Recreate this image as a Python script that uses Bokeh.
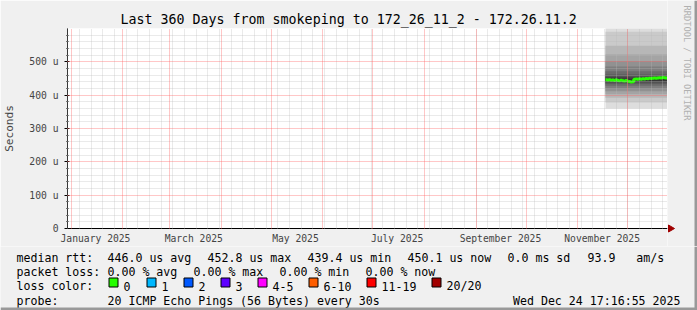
import math
import datetime as dt
import pandas as pd
from bokeh.plotting import figure
from bokeh.layouts import column, row
from bokeh.models import Range1d, FixedTicker, Grid, CustomJSTickFormatter
from bokeh.core.properties import value
from bokeh.embed import file_html
from bokeh.resources import INLINE

# ---------------- data ----------------
graph_start = dt.datetime(2024, 12, 29, 17, 16, 55)
graph_end = dt.datetime(2025, 12, 24, 17, 16, 55)

median_dates = list(pd.date_range("2025-11-17 12:00", "2025-12-24 12:00", freq="D"))
median_us = [446.5, 445.2, 446.0, 444.8, 445.6, 444.3, 445.9, 444.1, 443.5, 444.7,
             443.2, 442.8, 443.9, 442.1, 441.0, 439.4, 440.6, 447.8, 448.3, 447.5,
             448.9, 448.1, 449.0, 448.6, 449.7, 449.2, 450.4, 449.8, 450.9, 451.3,
             450.6, 451.8, 452.2, 451.5, 452.8, 452.0, 451.4, 450.1]

# typical sorted ping rtts (us) of the 20 pings -> smoke
ping_us = [360, 378, 392, 403, 412, 420, 428, 434, 439, 443,
           449, 455, 462, 472, 486, 502, 522, 548, 590, 700]

y_ticks = [0, 100, 200, 300, 400, 500]
y_minor = [20, 40, 60, 80, 120, 140, 160, 180, 220, 240, 260, 280, 320, 340, 360, 380,
           420, 440, 460, 480, 520, 540, 560, 580]

month_starts = list(pd.date_range("2025-01-01", "2025-12-01", freq="MS"))
week_starts = list(pd.date_range("2024-12-30", "2025-12-22", freq="7D"))
x_label_months = ["2025-01-01", "2025-03-01", "2025-05-01", "2025-07-01", "2025-09-01", "2025-11-01"]
x_labels = ["January 2025", "March 2025", "May 2025", "July 2025", "September 2025", "November 2025"]

title = "Last 360 Days from smokeping to 172_26_11_2 - 172.26.11.2"
legend_rows = [
    [(16, "median rtt:"), (107, "446.0 us avg"), (207, "452.8 us max"), (307, "439.4 us min"),
     (407, "450.1 us now"), (507, "0.0 ms sd"), (587, "93.9   am/s")],
    [(16, "packet loss:"), (107, "0.00 % avg"), (193, "0.00 % max"), (279, "0.00 % min"),
     (365, "0.00 % now")],
    [(16, "loss color:")],
    [(16, "probe:"), (107, "20 ICMP Echo Pings (56 Bytes) every 30s")],
]
loss_labels = ["0", "1", "2", "3", "4-5", "6-10", "11-19", "20/20"]
loss_colors = ["#26ff00", "#00b8ff", "#0059ff", "#5e00ff", "#ff00ff", "#ff5e00", "#ff0000", "#a10000"]
loss_box_x = [108, 146, 183, 220, 257, 308, 366, 431]
timestamp = "Wed Dec 24 17:16:55 2025"
watermark = "RRDTOOL / TOBI OETIKER"

# ---------------- helpers ----------------
def ms(d):
    return pd.Timestamp(d).value // 10**6

def nb(s):
    return s.replace(" ", "\u00a0")

MONO = "DejaVu Sans Mono"
BG = "#f0f0f0"
TOP_H = 246          # height of the graph part (page px)
W_MAIN = 667         # main figure ends at frame right edge

def deco_fig(w, h, x0, x1, y_top, y_bot):
    f = figure(width=w, height=h, x_range=Range1d(x0, x1), y_range=Range1d(y_bot, y_top),
               output_backend="svg", toolbar_location=None,
               x_axis_location=None, y_axis_location=None,
               min_border=0, min_border_left=0, min_border_right=0,
               min_border_top=0, min_border_bottom=0)
    f.background_fill_color = BG
    f.border_fill_color = BG
    f.outline_line_color = None
    f.xgrid.visible = False
    f.ygrid.visible = False
    f.frame_align = False
    return f

# ---------------- main graph ----------------
p = figure(width=W_MAIN, height=TOP_H, x_axis_type="datetime",
           x_range=Range1d(graph_start, graph_end), y_range=Range1d(0, 600),
           output_backend="svg", toolbar_location=None,
           min_border_left=67, min_border_right=0, min_border_top=28, min_border_bottom=18)
p.frame_align = False
p.background_fill_color = "white"
p.border_fill_color = BG
p.outline_line_color = None
p.xgrid.visible = False
p.ygrid.visible = False

p.title.text = title
p.title.align = "left"
p.title.offset = 53
p.title.standoff = 3
p.title.text_font = MONO
p.title.text_font_size = "13.3px"
p.title.text_font_style = "normal"
p.title.text_color = "black"

# smoke
shades = ["#dddddd", "#cacaca", "#b7b7b7", "#a4a4a4", "#919191",
          "#7e7e7e", "#6b6b6b", "#585858", "#454545", "#323232"]
for i in range(10):
    p.quad(left=[median_dates[0]], right=[graph_end],
           bottom=[ping_us[i]], top=[ping_us[19 - i]],
           fill_color=shades[i], line_color=None)

# median
p.step(x=median_dates + [graph_end], y=median_us + [median_us[-1]], mode="after",
       line_color="#26ff00", line_width=3)

# grids (on top, like rrdtool)
p.add_layout(Grid(dimension=0, ticker=FixedTicker(ticks=[ms(d) for d in week_starts]),
                  grid_line_color="#b8b8b8", grid_line_dash="1 1", grid_line_alpha=0.6,
                  level="annotation"))
p.add_layout(Grid(dimension=1, ticker=FixedTicker(ticks=y_minor),
                  grid_line_color="#b8b8b8", grid_line_dash="1 1", grid_line_alpha=0.6,
                  level="annotation"))
p.add_layout(Grid(dimension=0, ticker=FixedTicker(ticks=[ms(d) for d in month_starts]),
                  grid_line_color="#ff5f5f", grid_line_dash="1 1", grid_line_alpha=0.7,
                  level="annotation"))
p.add_layout(Grid(dimension=1, ticker=FixedTicker(ticks=y_ticks[1:]),
                  grid_line_color="#ff5f5f", grid_line_dash="1 1", grid_line_alpha=0.7,
                  level="annotation"))

# axes
yax = p.yaxis[0]
yax.ticker = FixedTicker(ticks=y_ticks, minor_ticks=y_minor)
yax.formatter = CustomJSTickFormatter(code="return tick == 0 ? '0' : tick + '\u00a0u';")
yax.axis_label = "Seconds"
yax.axis_label_text_font = MONO
yax.axis_label_text_font_size = "11.1px"
yax.axis_label_text_font_style = "normal"
yax.axis_label_standoff = 10
yax.major_label_text_font = MONO
yax.major_label_text_font_size = "9.7px"
yax.major_label_standoff = 6
yax.major_tick_out = 3
yax.major_tick_in = 2
yax.minor_tick_out = 1
yax.minor_tick_in = 1
yax.axis_line_color = "black"

xax = p.xaxis[0]
label_ms = [ms(pd.Timestamp(d) + pd.Timedelta(hours=348)) for d in x_label_months]
xax.ticker = FixedTicker(ticks=label_ms)
xax.major_label_overrides = {t: s for t, s in zip(label_ms, x_labels)}
xax.major_tick_line_color = None
xax.minor_tick_line_color = None
xax.major_tick_out = 0
xax.major_tick_in = 0
xax.major_label_standoff = 4
xax.major_label_text_font = MONO
xax.major_label_text_font_size = "9.7px"
xax.axis_line_color = "black"

# ---------------- right strip: axis arrow + watermark ----------------
wm = deco_fig(697 - W_MAIN, TOP_H, W_MAIN, 697, 0, TOP_H)
wm.segment(x0=[667], y0=[228], x1=[670], y1=[228], line_color="black", line_width=1)
wm.patch(x=[668, 674, 668], y=[224.5, 228, 231.5], fill_color="#a00000", line_color="#a00000")
wm.text(x=[686], y=[5], text=[nb(watermark)], angle=-math.pi / 2,
        text_font=value(MONO), text_font_size=value("8.7px"), text_color="#b0b0b0",
        text_align="left", text_baseline="middle")
wm.quad(left=[694], right=[697], top=[0], bottom=[TOP_H], fill_color="#999999", line_color=None)

# ---------------- legend strip ----------------
lg = deco_fig(697, 310 - TOP_H, 0, 697, TOP_H, 310)
row_base = [257.3, 271.6, 285.9, 300.2]
lx, ly, lt = [], [], []
for r, rw in enumerate(legend_rows):
    for X, txt in rw:
        lx.append(X); ly.append(row_base[r]); lt.append(nb(txt))
for X, lab in zip(loss_box_x, loss_labels):
    lx.append(X + 15); ly.append(row_base[2]); lt.append(lab)
lg.text(x=lx, y=ly, text=lt, text_font=value(MONO), text_font_size=value("11.6px"),
        text_color="black", text_align="left", text_baseline="alphabetic")
lg.text(x=[680], y=[row_base[3]], text=[nb(timestamp)], text_font=value(MONO),
        text_font_size=value("11.6px"), text_color="black", text_align="right",
        text_baseline="alphabetic")
lg.quad(left=[x + 0.5 for x in loss_box_x], right=[x + 9.5 for x in loss_box_x],
        top=[277.5] * len(loss_box_x), bottom=[286.5] * len(loss_box_x),
        fill_color=loss_colors, line_color="black", line_width=1)
lg.quad(left=[694, 0], right=[697, 697], top=[TOP_H, 307], bottom=[310, 310],
        fill_color="#999999", line_color=None)

layout = column(row(p, wm), lg)
open("out.html", "w").write(file_html(layout, INLINE))
